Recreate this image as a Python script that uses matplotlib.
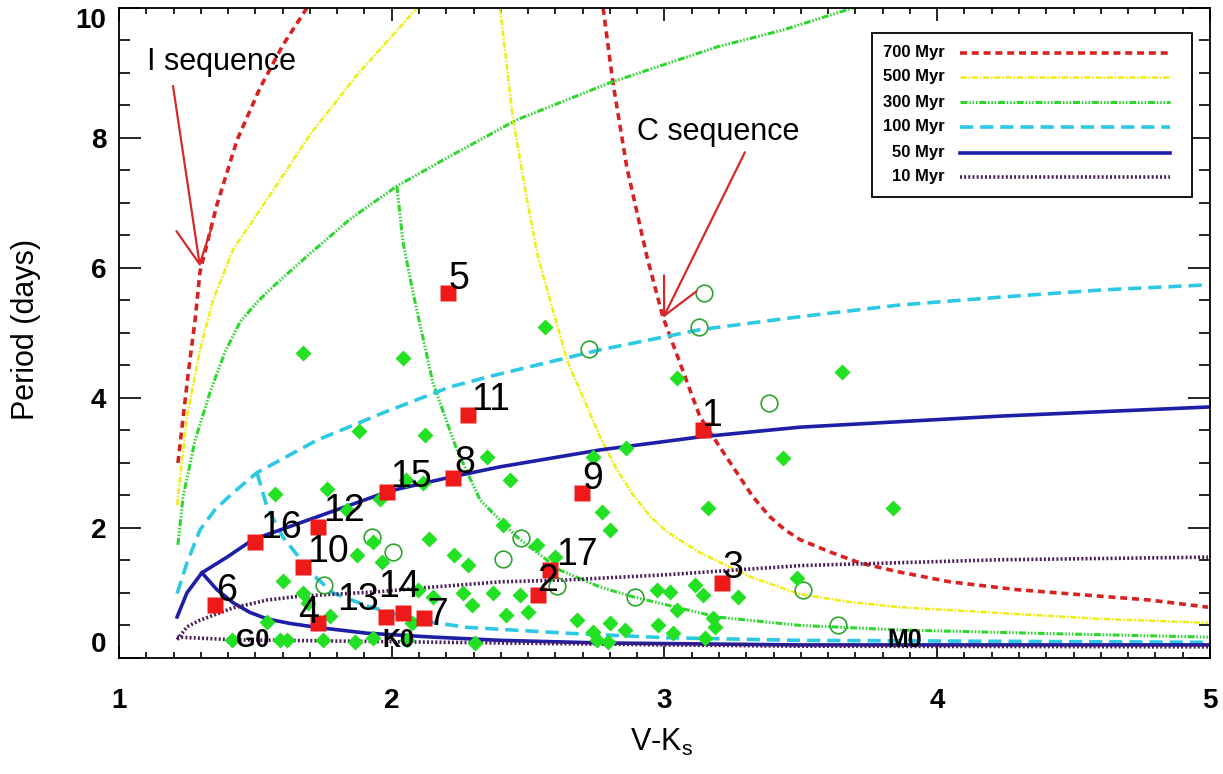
import matplotlib
matplotlib.use('Agg')
import matplotlib.pyplot as plt
from matplotlib.lines import Line2D
from matplotlib.patches import Rectangle
from matplotlib.ticker import MultipleLocator, FixedLocator

plt.rcParams['font.family'] = ['Liberation Sans', 'DejaVu Sans']
plt.rcParams['mathtext.default'] = 'regular'
plt.rcParams['lines.scale_dashes'] = False

# ---------------- data (V-Ks, Period in days) ----------------
iso_labels = ['700 Myr', '500 Myr', '300 Myr', '100 Myr', '50 Myr', '10 Myr']

red700_I_x = [1.216, 1.253, 1.279, 1.297, 1.326, 1.359, 1.433, 1.517, 1.601, 1.689]
red700_I_y = [3.00, 4.35, 5.20, 5.94, 6.43, 6.97, 7.97, 8.77, 9.43, 10.0]
red700_C_x = [2.775, 2.811, 2.862, 2.936, 2.994, 3.130, 3.229, 3.324, 3.387, 3.442,
              3.497, 3.607, 3.717, 3.863, 4.047, 4.292, 4.534, 4.780, 4.993]
red700_C_y = [10.0, 8.85, 7.55, 6.17, 5.25, 3.71, 3.08, 2.48, 2.17, 1.97,
              1.82, 1.63, 1.46, 1.32, 1.17, 1.05, 0.97, 0.89, 0.78]

yel500_I_x = [1.213, 1.249, 1.297, 1.345, 1.418, 1.579, 1.700, 1.873, 2.093]
yel500_I_y = [2.35, 3.71, 4.74, 5.51, 6.28, 7.28, 8.05, 8.97, 10.0]
yel500_C_x = [2.397, 2.445, 2.496, 2.536, 2.643, 2.764, 2.826, 2.885, 2.947, 3.009,
              3.130, 3.313, 3.497, 3.680, 3.863, 4.230, 4.600, 4.993]
yel500_C_y = [10.0, 8.28, 7.05, 6.17, 4.58, 3.40, 2.89, 2.51, 2.18, 1.94,
              1.62, 1.25, 0.98, 0.86, 0.78, 0.69, 0.60, 0.54]

grn300_I_x = [1.216, 1.235, 1.279, 1.334, 1.389, 1.444, 1.510, 1.572, 1.700, 1.847,
              2.019, 2.214, 2.459, 2.800, 3.192, 3.434, 3.691]
grn300_I_y = [1.74, 2.48, 3.35, 4.09, 4.71, 5.17, 5.49, 5.74, 6.22, 6.75,
              7.26, 7.72, 8.28, 8.85, 9.40, 9.66, 10.0]
grn300_C_x = [2.019, 2.041, 2.078, 2.151, 2.239, 2.324, 2.397, 2.459, 2.617, 2.764,
              2.885, 3.192, 3.497, 3.863, 4.351, 4.993]
grn300_C_y = [7.26, 6.40, 5.62, 4.23, 3.20, 2.43, 2.12, 1.86, 1.35, 1.09,
              0.94, 0.63, 0.50, 0.43, 0.38, 0.32]

cyn100_I_x = [1.213, 1.249, 1.297, 1.352, 1.418, 1.506, 1.726, 1.968, 2.214, 2.397,
              2.764, 3.130, 3.497, 3.863, 4.230, 4.597, 4.993]
cyn100_I_y = [0.99, 1.46, 1.97, 2.28, 2.54, 2.85, 3.35, 3.77, 4.17, 4.37,
              4.74, 5.05, 5.25, 5.43, 5.55, 5.66, 5.74]
cyn100_C_x = [1.506, 1.543, 1.601, 1.711, 1.785, 1.909, 2.093, 2.276, 2.643, 3.009,
              3.497, 4.993]
cyn100_C_y = [2.85, 2.32, 1.86, 1.28, 1.00, 0.80, 0.58, 0.47, 0.38, 0.31,
              0.27, 0.24]

blu50_I_x = [1.213, 1.249, 1.304, 1.396, 1.491, 1.726, 1.994, 2.214, 2.397, 2.764,
             3.130, 3.497, 4.230, 4.993]
blu50_I_y = [0.63, 1.00, 1.31, 1.55, 1.82, 2.17, 2.57, 2.78, 2.94, 3.20,
             3.40, 3.55, 3.72, 3.86]
blu50_C_x = [1.304, 1.359, 1.418, 1.480, 1.543, 1.627, 1.726, 1.909, 2.151, 2.400,
             2.764, 3.497, 4.993]
blu50_C_y = [1.31, 1.05, 0.85, 0.70, 0.60, 0.53, 0.47, 0.38, 0.32, 0.27,
             0.23, 0.20, 0.20]

pur10_I_x = [1.213, 1.250, 1.297, 1.418, 1.543, 1.664, 1.957, 2.151, 2.397, 2.643,
             3.009, 3.497, 4.230, 4.993]
pur10_I_y = [0.28, 0.48, 0.58, 0.77, 0.89, 0.95, 1.02, 1.09, 1.17, 1.20,
             1.28, 1.42, 1.51, 1.55]
pur10_C_x = [1.213, 1.418, 1.785, 2.397, 3.000, 3.497, 4.993]
pur10_C_y = [0.32, 0.28, 0.26, 0.23, 0.20, 0.18, 0.17]

# numbered stars (red squares)
star_ids = ['1', '2', '3', '4', '5', '6', '7', '8', '9', '10', '11', '12', '13',
            '14', '15', '16', '17']
star_x = [3.141, 2.536, 3.211, 1.730, 2.206, 1.352, 2.118, 2.225, 2.697, 1.675,
          2.280, 1.730, 1.979, 2.041, 1.983, 1.499, 2.580]
star_p = [3.51, 0.97, 1.15, 0.54, 5.62, 0.82, 0.62, 2.77, 2.54, 1.40,
          3.74, 2.02, 0.63, 0.69, 2.55, 1.78, 1.35]

# comparison cluster members (filled diamonds)
memb_x = [1.675, 2.041, 1.880, 2.122, 2.349, 1.572, 1.763, 1.836, 1.957, 2.052,
          2.115, 2.562, 3.046, 2.434, 2.738, 2.859, 3.434, 3.651, 3.838, 3.160,
          3.486, 2.771, 2.800, 2.137, 2.228, 2.280, 2.408, 2.532, 2.599, 2.261,
          2.294, 2.371, 2.470, 2.419, 2.500, 2.679, 2.738, 2.752, 2.793, 2.800,
          2.855, 2.973, 3.020, 3.046, 2.976, 3.031, 3.112, 3.141, 3.178, 3.185,
          3.148, 3.269, 2.305, 1.931, 1.873, 1.964, 1.601, 1.675, 1.693, 1.774,
          1.543, 1.414, 1.590, 1.616, 1.748, 1.865, 1.931, 2.056, 2.074, 2.096,
          2.151]
memb_p = [4.69, 4.62, 3.49, 3.43, 3.09, 2.52, 2.60, 2.28, 2.45, 2.74,
          2.69, 5.09, 4.31, 2.74, 3.09, 3.23, 3.08, 4.40, 2.31, 2.31,
          1.23, 2.25, 1.97, 1.83, 1.58, 1.43, 2.05, 1.74, 1.55, 1.00,
          0.82, 1.00, 0.97, 0.66, 0.71, 0.58, 0.40, 0.28, 0.25, 0.54,
          0.43, 1.05, 1.02, 0.74, 0.51, 0.38, 1.12, 0.97, 0.62, 0.48,
          0.31, 0.94, 0.23, 1.78, 1.58, 1.48, 1.18, 1.00, 0.85, 0.65,
          0.55, 0.28, 0.28, 0.28, 0.28, 0.25, 0.31, 0.28, 0.54, 1.05,
          0.94]

# open circles
open_x = [3.145, 3.127, 2.723, 3.383, 3.508, 3.636, 2.408, 2.474, 2.606, 2.892,
          1.928, 2.005, 1.752]
open_p = [5.62, 5.09, 4.75, 3.92, 1.05, 0.51, 1.52, 1.85, 1.11, 0.94,
          1.86, 1.63, 1.12]

# spectral type markers
sp_labels = ['G0', 'K0', 'M0']
sp_x = [1.491, 2.023, 3.882]
sp_y = [0.28, 0.28, 0.28]

x_ticks = [1, 2, 3, 4, 5]
y_ticks = [0, 2, 4, 6, 8, 10]

# ---------------- styles ----------------
iso_styles = [
    dict(color='#d82222', lw=2.6, dashes=(5, 3.5)),
    dict(color='#f0ee10', lw=1.8, dashes=(4.5, 1.2, 1.2, 1.2)),
    dict(color='#2fd62f', lw=2.2, dashes=(5, 1.3, 1.1, 1.3, 1.1, 1.3, 1.1, 1.3)),
    dict(color='#2cc8e4', lw=2.6, dashes=(9.5, 5)),
    dict(color='#1e1ea6', lw=2.6, dashes=(None, None)),
    dict(color='#4a1a58', lw=2.6, dashes=(1.4, 1.6)),
]
iso_data = [
    (red700_I_x, red700_I_y, red700_C_x, red700_C_y),
    (yel500_I_x, yel500_I_y, yel500_C_x, yel500_C_y),
    (grn300_I_x, grn300_I_y, grn300_C_x, grn300_C_y),
    (cyn100_I_x, cyn100_I_y, cyn100_C_x, cyn100_C_y),
    (blu50_I_x, blu50_I_y, blu50_C_x, blu50_C_y),
    (pur10_I_x, pur10_I_y, pur10_C_x, pur10_C_y),
]

# label offsets (points) for the numbered stars
lab_off = [(6.5, 10), (7, 10), (8, 11), (-6.5, 7), (8, 9.5), (8, 9.5), (9.5, 2),
           (8.5, 11), (8, 10), (18, 11), (16, 11), (19, 11), (-20, 12),
           (-3, 19), (17, 11), (19, 10), (19.5, 11)]

fig = plt.figure(figsize=(12.23, 7.74), dpi=100)
ax = fig.add_axes([0.0973, 0.150, 0.892, 0.8397])

def style_line(line, st):
    line.set_color(st['color'])
    line.set_linewidth(st['lw'])
    if st['dashes'][0] is None:
        line.set_linestyle('-')
    else:
        line.set_dashes(st['dashes'])

for (ix, iy, cx, cy), st in zip(iso_data, iso_styles):
    l1, = ax.plot(ix, iy, zorder=2)
    l2, = ax.plot(cx, cy, zorder=2)
    style_line(l1, st)
    style_line(l2, st)

ax.plot(open_x, open_p, 'o', ms=12, mfc='none', mec='#2ea52e', mew=1.2, zorder=3)
ax.plot(memb_x, memb_p, 'D', ms=8, mfc='#22e022', mec='none', zorder=3)
ax.plot(star_x, star_p, 's', ms=11.5, mfc='#ee1a1a', mec='none', zorder=4)

for sid, sx, sp, off in zip(star_ids, star_x, star_p, lab_off):
    ax.annotate(sid, xy=(sx, sp), xytext=off, textcoords='offset points',
                ha='center', va='center', fontsize=27, color='black', zorder=6)

for lab, sx, sy in zip(sp_labels, sp_x, sp_y):
    ax.text(sx, sy, lab, ha='center', va='center', fontsize=18,
            fontweight='bold', zorder=6)

# sequence annotations
arrow_col = '#d42a2a'
ax.text(1.103, 9.05, 'I sequence', ha='left', va='baseline', fontsize=22, zorder=6)
ax.annotate('', xy=(1.297, 6.02), xytext=(1.198, 8.80),
            arrowprops=dict(arrowstyle='->,head_length=1.3,head_width=0.65',
                            color=arrow_col, lw=1.6, mutation_scale=20,
                            shrinkA=0, shrinkB=0), zorder=6)
ax.text(2.899, 7.97, 'C sequence', ha='left', va='baseline', fontsize=22, zorder=6)
ax.annotate('', xy=(2.995, 5.23), xytext=(3.295, 7.78),
            arrowprops=dict(arrowstyle='->,head_length=1.3,head_width=0.65',
                            color=arrow_col, lw=1.6, mutation_scale=20,
                            shrinkA=0, shrinkB=0), zorder=6)

# axes
ax.set_xlim(1, 5)
ax.set_ylim(0, 10)
ax.xaxis.set_major_locator(FixedLocator(x_ticks))
ax.yaxis.set_major_locator(FixedLocator(y_ticks))
ax.set_xticklabels([str(v) for v in x_ticks])
ax.set_yticklabels([str(v) for v in y_ticks])
ax.xaxis.set_minor_locator(MultipleLocator(0.1))
ax.yaxis.set_minor_locator(MultipleLocator(0.5))
ax.tick_params(which='both', direction='in', top=True, right=True, width=1.2,
               color='black')
ax.tick_params(axis='x', which='major', length=9, pad=22, labelsize=20)
ax.tick_params(axis='x', which='minor', length=4.5)
ax.tick_params(axis='y', which='major', length=16, pad=9, labelsize=20)
ax.tick_params(axis='y', which='minor', length=8)
for lab in ax.get_xticklabels() + ax.get_yticklabels():
    lab.set_fontweight('bold')
yt = ax.yaxis.get_major_ticks()
yt[0].label1.set_va('bottom')
yt[-1].label1.set_va('top')
for sp in ax.spines.values():
    sp.set_linewidth(1.3)

fig.text(0.021, 0.574, 'Period (days)', rotation=90, ha='center', va='center',
         fontsize=22)
fig.text(0.541, 0.030, 'V-K$_s$', ha='center', va='baseline', fontsize=22)

# legend (manual, text right-aligned to the left of each sample)
box = Rectangle((0.690, 0.709), 0.294, 0.2525, transform=ax.transAxes,
                facecolor='white', edgecolor='black', lw=1.3, zorder=7)
ax.add_patch(box)
row_y = [0.931, 0.894, 0.855, 0.817, 0.777, 0.740]
for lab, st, ry in zip(iso_labels, iso_styles, row_y):
    ax.text(0.757, ry, lab, transform=ax.transAxes, ha='right', va='center',
            fontsize=12, fontweight='bold', zorder=8)
    ln = Line2D([0.771, 0.963], [ry, ry], transform=ax.transAxes, zorder=8)
    style_line(ln, st)
    ax.add_line(ln)

fig.savefig('out.png', dpi=100)
